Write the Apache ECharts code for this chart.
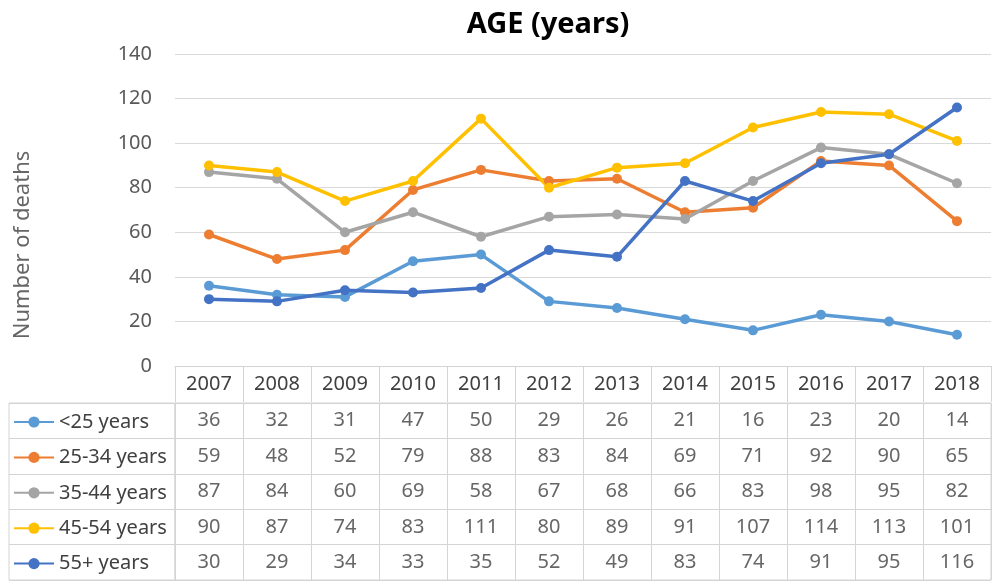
<!DOCTYPE html>
<html><head><meta charset="utf-8">
<script src="https://cdn.jsdelivr.net/npm/echarts@6/dist/echarts.min.js"></script>
<style>html,body{margin:0;padding:0;background:#fff}#c{width:1000px;height:587px}</style>
</head><body><div id="c"></div>
<script>
const years = ['2007','2008','2009','2010','2011','2012','2013','2014','2015','2016','2017','2018'];
const seriesNames = ['<25 years','25-34 years','35-44 years','45-54 years','55+ years'];
const under25 = [36,32,31,47,50,29,26,21,16,23,20,14];
const age25_34 = [59,48,52,79,88,83,84,69,71,92,90,65];
const age35_44 = [87,84,60,69,58,67,68,66,83,98,95,82];
const age45_54 = [90,87,74,83,111,80,89,91,107,114,113,101];
const age55plus = [30,29,34,33,35,52,49,83,74,91,95,116];
const yTicks = {min:0, max:140, interval:20};
const colors = ['#5B9BD5','#ED7D31','#A5A5A5','#FFC000','#4472C4'];
const allData = [under25, age25_34, age35_44, age45_54, age55plus];

const FONT = 'Noto Sans';
const gridLine = '#d9d9d9';
const tableLine = '#d4d4d4';

const cells = [];
allData.forEach((arr, r) => arr.forEach((v, c) => cells.push([c, r, v])));

const chart = echarts.init(document.getElementById('c'));
chart.setOption({
  animation: false,
  color: colors,
  textStyle: {fontFamily: FONT},
  title: {
    text: 'AGE (years)', left: 543, top: 5, textAlign: 'center',
    textStyle: {fontSize: 29, fontWeight: 'bold', color: '#000', fontFamily: FONT}
  },
  graphic: [{
    type: 'text', x: 23, y: 245, rotation: Math.PI/2,
    style: {text: 'Number of deaths', fill: '#666666', font: '22px "Noto Sans"', align: 'center', verticalAlign: 'middle'}
  }],
  legend: {
    orient: 'vertical', left: 13, top: 412, height: 200, padding: 0,
    itemWidth: 40, itemHeight: 14, itemGap: 15.4, itemTextGap: 5,
    data: seriesNames, selectedMode: false,
    textStyle: {fontSize: 20, color: '#404040', lineHeight: 20}
  },
  grid: [
    {left: 175, right: 9, top: 54, bottom: 221},
    {left: 175, right: 9, top: 403, bottom: 7, show: true, borderColor: tableLine, borderWidth: 1},
    {left: 9, width: 166, top: 403, bottom: 7, show: true, borderColor: tableLine, borderWidth: 1}
  ],
  xAxis: [
    {type: 'category', gridIndex: 0, data: years, boundaryGap: true,
     axisLine: {show: true, lineStyle: {color: tableLine}},
     axisTick: {show: true, interval: 0, length: 36, lineStyle: {color: tableLine}},
     axisLabel: {fontSize: 20, color: '#404040', margin: 8, interval: 0}},
    {type: 'category', gridIndex: 1, data: years, boundaryGap: true,
     axisLine: {show: false}, axisTick: {show: false}, axisLabel: {show: false},
     splitLine: {show: true, interval: 0, lineStyle: {color: tableLine}}},
    {type: 'category', gridIndex: 2, data: ['x'], axisLine: {show: false}, axisTick: {show: false}, axisLabel: {show: false}}
  ],
  yAxis: [
    {type: 'value', gridIndex: 0, min: yTicks.min, max: yTicks.max, interval: yTicks.interval,
     axisLine: {show: false}, axisTick: {show: false},
     axisLabel: {fontSize: 20, color: '#595959', margin: 23},
     splitLine: {lineStyle: {color: gridLine, width: 1}}},
    {type: 'category', gridIndex: 1, data: seriesNames, inverse: true,
     axisLine: {show: false}, axisTick: {show: false}, axisLabel: {show: false},
     splitLine: {show: true, interval: 0, lineStyle: {color: tableLine}}},
    {type: 'category', gridIndex: 2, data: seriesNames, inverse: true,
     axisLine: {show: false}, axisTick: {show: false}, axisLabel: {show: false},
     splitLine: {show: true, interval: 0, lineStyle: {color: tableLine}}}
  ],
  series: seriesNames.map((n, i) => ({
    name: n, type: 'line', xAxisIndex: 0, yAxisIndex: 0, data: allData[i],
    symbol: 'circle', symbolSize: 10, lineStyle: {width: 3.5, color: colors[i]},
    itemStyle: {color: colors[i]}, emphasis: {disabled: true}
  })).concat([{
    name: 'table', type: 'scatter', xAxisIndex: 1, yAxisIndex: 1, data: cells,
    symbol: 'rect', symbolSize: 1, itemStyle: {color: 'rgba(0,0,0,0)'},
    emphasis: {disabled: true}, silent: true,
    label: {show: true, position: 'inside', fontSize: 20, color: '#404040', fontFamily: FONT,
            formatter: p => String(p.value[2])}
  }])
});
</script></body></html>
